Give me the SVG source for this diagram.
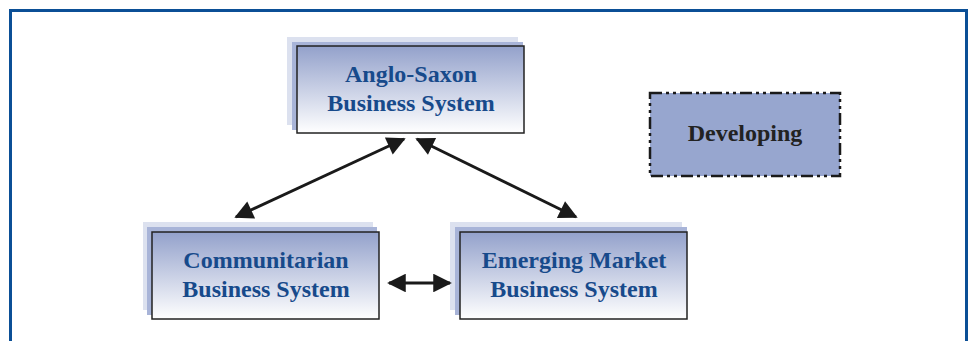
<svg xmlns="http://www.w3.org/2000/svg" width="968" height="341" viewBox="0 0 968 341">
<defs>
<linearGradient id="g" x1="0" y1="0" x2="0" y2="1">
<stop offset="0" stop-color="#93A1CB"/>
<stop offset="1" stop-color="#FFFFFF"/>
</linearGradient>
<marker id="ah" viewBox="0 0 10 10" refX="9" refY="5" markerWidth="6.5" markerHeight="6.2" markerUnits="strokeWidth" orient="auto-start-reverse">
<path d="M0,0 L10,5 L0,10 z" fill="#1a1a1a"/>
</marker>
<style>
.s1{fill:#DCE1EF}
.s2{fill:#A8B4D8}
.box{fill:url(#g);stroke:#222;stroke-width:1.5}
.t{font-family:"Liberation Serif",serif;font-weight:bold;font-size:24px;fill:#174A8B;text-anchor:middle}
.c{stroke:#1a1a1a;stroke-width:3;fill:none;marker-start:url(#ah);marker-end:url(#ah)}
</style>
</defs>
<rect width="968" height="341" fill="#fff"/>
<path d="M10.5,341 V10.5 H966.5 V341" fill="none" stroke="#0B4F96" stroke-width="3"/>
<g id="anglo">
<rect class="s1" x="287" y="37" width="231" height="88"/>
<rect class="s2" x="292" y="42" width="231" height="88"/>
<rect class="box" x="297" y="46" width="227" height="87"/>
<text class="t" x="411" y="82">Anglo-Saxon</text>
<text class="t" x="411" y="111">Business System</text>
</g>
<g id="communitarian">
<rect class="s1" x="143" y="222" width="230" height="88"/>
<rect class="s2" x="147" y="227" width="230" height="88"/>
<rect class="box" x="152" y="232" width="227" height="87"/>
<text class="t" x="266" y="268">Communitarian</text>
<text class="t" x="266" y="297">Business System</text>
</g>
<g id="emerging">
<rect class="s1" x="450" y="222" width="232" height="88"/>
<rect class="s2" x="455" y="227" width="232" height="88"/>
<rect class="box" x="460" y="232" width="227" height="87"/>
<text class="t" x="574" y="268">Emerging Market</text>
<text class="t" x="574" y="297">Business System</text>
</g>
<g id="developing">
<rect x="650" y="93" width="190" height="83" fill="#97A6CF" stroke="#1a1a1a" stroke-width="2.5" stroke-dasharray="12,4,3,4,3,4"/>
<text x="745" y="141" font-family="Liberation Serif,serif" font-weight="bold" font-size="24" fill="#222" text-anchor="middle">Developing</text>
</g>
<g id="connectors">
<line class="c" x1="404" y1="139" x2="236" y2="217"/>
<line class="c" x1="417" y1="139" x2="576" y2="217"/>
<line class="c" x1="389" y1="283" x2="450" y2="283"/>
</g>
</svg>
